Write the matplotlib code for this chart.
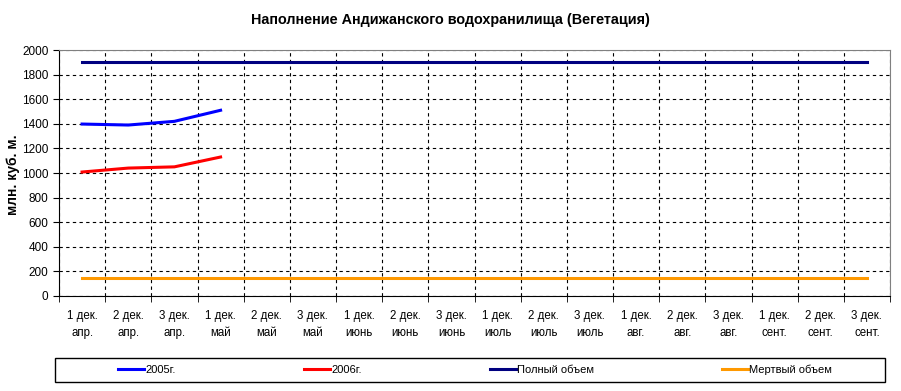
import numpy as np
import matplotlib.pyplot as plt
from matplotlib.ticker import MultipleLocator, FixedLocator
from matplotlib.patches import Rectangle

plt.rcParams['font.family'] = ['Liberation Sans', 'DejaVu Sans']

decades = ["1 дек.", "2 дек.", "3 дек."]
months = ["апр.", "май", "июнь", "июль", "авг.", "сент."]
categories = [f"{d}\n{m}" for m in months for d in decades]

y2005 = [1398, 1390, 1420, 1510]
y2006 = [1008, 1040, 1050, 1130]
full_volume = 1900
dead_volume = 145

n = len(categories)
x = np.arange(n)

W, H = 901, 391
fig = plt.figure(figsize=(W / 100, H / 100), dpi=100)
ax = fig.add_axes([59 / W, 1 - 296 / H, 831 / W, 246 / H])

ax.plot(x[:len(y2005)], y2005, color="#0000ff", lw=2.2, label="2005г.")
ax.plot(x[:len(y2006)], y2006, color="#ff0000", lw=2.2, label="2006г.")
ax.plot(x, [full_volume] * n, color="#000080", lw=2.2, label="Полный объем")
ax.plot(x, [dead_volume] * n, color="#ff9900", lw=2.2, label="Мертвый объем")

ax.set_xlim(-0.5, n - 0.5)
ax.set_ylim(0, 2000)
ax.yaxis.set_major_locator(MultipleLocator(200))
ax.set_xticks(x)
ax.set_xticklabels(categories, fontsize=8.3, linespacing=1.6)
ax.xaxis.set_minor_locator(FixedLocator(np.arange(-0.5, n, 1)))
ax.tick_params(axis="x", which="major", length=0, pad=10)
ax.tick_params(axis="x", which="minor", length=4, direction="out")
ax.tick_params(axis="y", labelsize=8.5, length=4, direction="out")

ax.grid(True, axis="y", which="major", color="black", ls=(0, (3, 3)), lw=0.8)
ax.grid(True, axis="x", which="minor", color="black", ls=(0, (3, 3)), lw=0.8)
ax.set_axisbelow(True)

for s in ["top", "right"]:
    ax.spines[s].set_color("#808080")
for s in ["left", "bottom"]:
    ax.spines[s].set_color("black")

fig.text(13 / W, 1 - 175 / H, "млн. куб. м.", rotation=90, ha="center", va="center",
         fontsize=10, fontweight="bold")
fig.text(0.5, 1 - 20 / H, "Наполнение Андижанского водохранилища (Вегетация)",
         ha="center", va="center", fontsize=10.4, fontweight="bold")

# legend box
fig.patches.append(Rectangle((55 / W, 1 - 382 / H), 830 / W, 24 / H, transform=fig.transFigure,
                             fill=False, edgecolor="black", lw=1.0))
fs = 8
px = fs * 100 / 72
fig.legend(loc="center", bbox_to_anchor=(475 / W, 1 - 370 / H),
           ncol=4, fontsize=fs, frameon=False,
           handlelength=26 / px, handletextpad=0.1, columnspacing=128 / px,
           borderaxespad=0, borderpad=0)

fig.savefig("out.png", dpi=100)
